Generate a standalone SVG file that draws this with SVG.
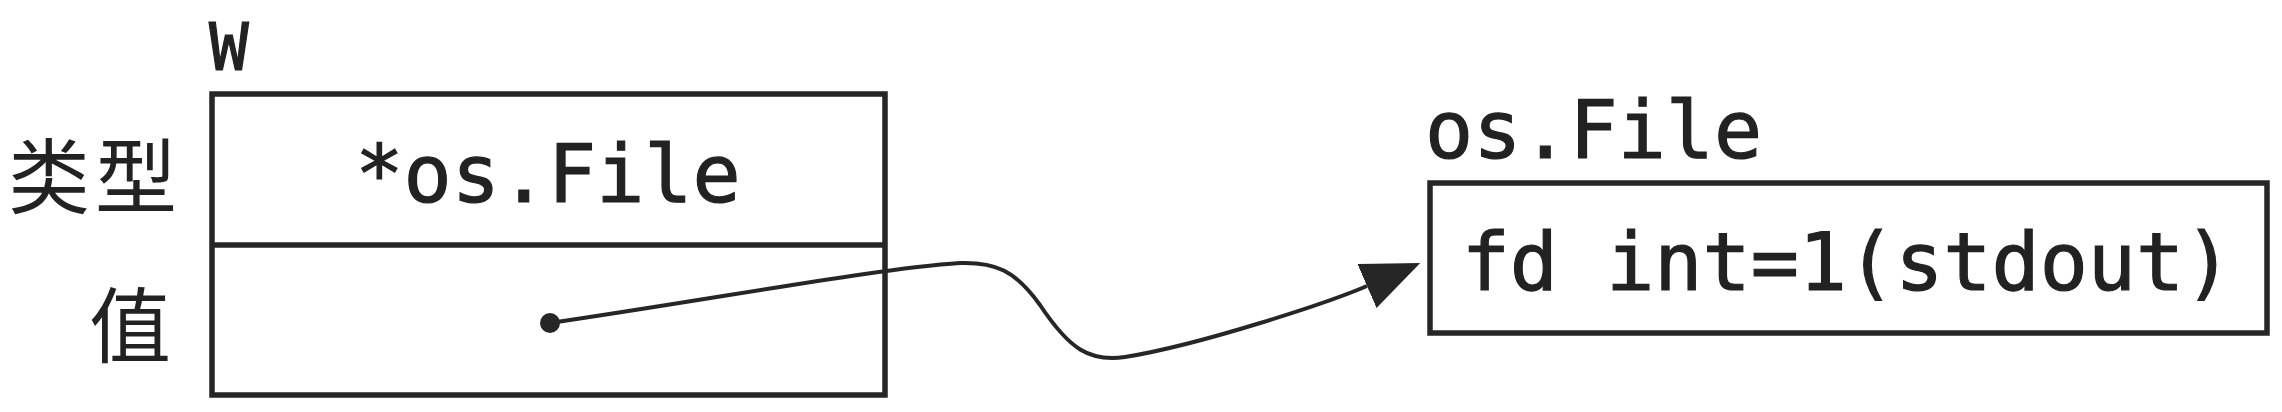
<svg xmlns="http://www.w3.org/2000/svg" width="2282" height="412" viewBox="0 0 2282 412">
  <style>
    .box { fill: none; stroke: #262626; stroke-width: 5.5; }
    .mono { font-family: "DejaVu Sans Mono", "Liberation Mono", monospace; font-size: 80px; fill: #222; stroke: #222; stroke-width: 1.2; }
    .title-w { font-size: 66px; }
    .cjk { font-family: "Noto Sans CJK SC", sans-serif; font-size: 82px; fill: #222; }
    .conn { fill: none; stroke: #262626; stroke-width: 4; }
  </style>
  <defs>
    <marker id="arrow" markerUnits="userSpaceOnUse" viewBox="0 0 58 48" refX="0" refY="24" markerWidth="58" markerHeight="48" orient="auto">
      <path d="M0,0 L58,24 L0,48 z" fill="#262626"/>
    </marker>
  </defs>
  <rect width="2282" height="412" fill="#ffffff"/>

  <g id="w-interface">
    <text class="mono title-w" x="209" y="70">W</text>
    <rect class="box" x="212" y="94" width="673" height="301"/>
    <line class="box" x1="212" y1="245" x2="885" y2="245"/>
    <text class="mono" x="548" y="202" text-anchor="middle">*os.File</text>
    <text class="cjk" x="8" y="207" letter-spacing="5">类型</text>
    <text class="cjk" x="89" y="356">值</text>
  </g>

  <g id="os-file">
    <text class="mono" x="1425" y="158">os.File</text>
    <rect class="box" x="1430" y="183" width="837" height="150"/>
    <text class="mono" x="1847" y="290" text-anchor="middle">fd int=1(stdout)</text>
  </g>

  <g id="connectors">
    <circle cx="550" cy="323" r="10" fill="#262626"/>
    <path class="conn" marker-end="url(#arrow)" d="M550,323 C720,298 880,268 960,263 C995,262 1015,270 1040,305 C1070,350 1090,362 1125,357 C1200,345 1330,302 1367,286"/>
  </g>
</svg>
